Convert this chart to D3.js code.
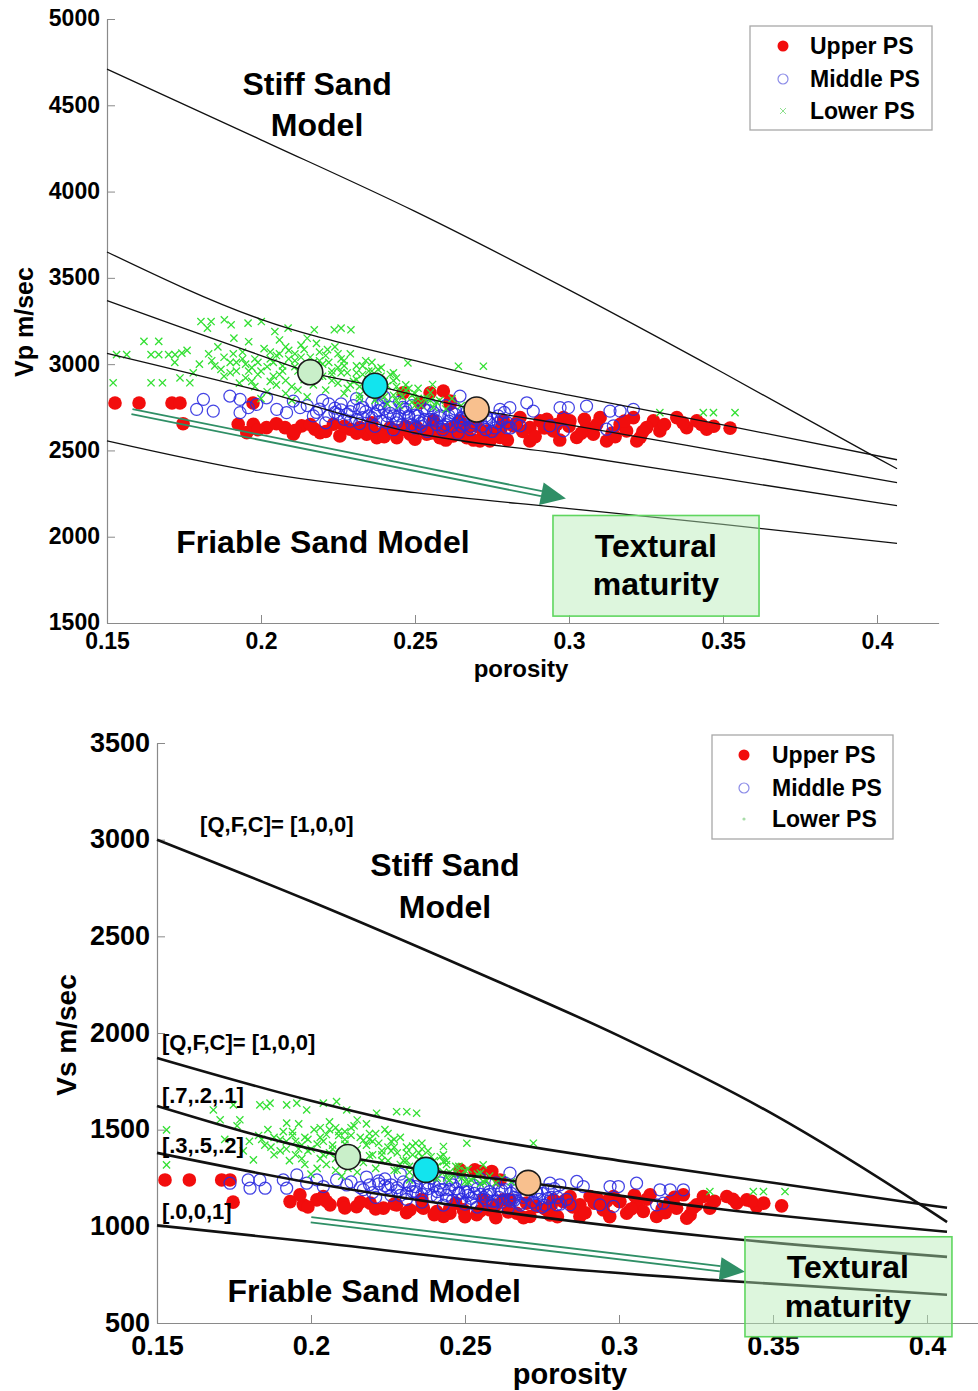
<!DOCTYPE html>
<html>
<head>
<meta charset="utf-8">
<script src="https://cdn.jsdelivr.net/npm/d3@7"></script>
<style>
  body { margin: 0; background: #fff; }
  svg { display: block; }
  text { font-family: "Liberation Sans", Arial, Helvetica, sans-serif; font-weight: bold; fill: #000; }
</style>
</head>
<body>
<svg id="fig" width="978" height="1391"></svg>
<script>
// ---------- axes ----------
const porosityTicks = [0.15, 0.2, 0.25, 0.3, 0.35, 0.4];
const vpTicks = [1500, 2000, 2500, 3000, 3500, 4000, 4500, 5000];
const vsTicks = [500, 1000, 1500, 2000, 2500, 3000, 3500];

// ---------- rock-physics model curves: [porosity, velocity] ----------
// P-wave velocity
const vpStiff100   = [[0.15,4710],[0.2,4300],[0.25,3885],[0.3,3430],[0.35,2950],[0.4,2457],[0.4065,2394]];
const vpFriable100 = [[0.15,3650],[0.2,3260],[0.25,3020],[0.2776,2901],[0.3,2820],[0.35,2648],[0.4065,2446]];
const vpFriable721 = [[0.15,3368],[0.2,3050],[0.216,2953],[0.237,2875],[0.27,2737],[0.3,2648],[0.35,2492],[0.4065,2313]];
const vpFriable352 = [[0.15,3063],[0.2,2844],[0.25,2601],[0.3,2475],[0.35,2336],[0.4065,2180]];
const vpFriable001 = [[0.15,2555],[0.2,2371],[0.25,2255],[0.3,2163],[0.35,2071],[0.4065,1961]];
// S-wave velocity
const vsStiff100   = [[0.15,3000],[0.2,2680],[0.25,2340],[0.3,1985],[0.35,1580],[0.4,1090],[0.4065,1022]];
const vsFriable100 = [[0.15,1871],[0.2,1650],[0.25,1470],[0.3,1340],[0.35,1225],[0.4065,1096]];
const vsFriable721 = [[0.15,1623],[0.212,1359],[0.2373,1292],[0.2705,1225],[0.33,1095],[0.4065,972]];
const vsFriable352 = [[0.15,1380],[0.2,1225],[0.2614,1075],[0.33,946],[0.4065,842]];
const vsFriable001 = [[0.15,1005],[0.2,920],[0.2614,810],[0.33,723],[0.4065,646]];

// ---------- well-log samples: [porosity, velocity] ----------
const vpUpper = [
  [0.1526,2775],[0.1604,2775],[0.1711,2775],[0.1737,2775],[0.1747,2655],[0.1974,2775],
  [0.1926,2652],[0.1975,2652],[0.2018,2632],[0.2078,2632],[0.2132,2642],[0.2175,2623],[0.2235,2652],
  [0.2289,2623],[0.2343,2594],[0.2397,2603],[0.2441,2574],[0.2484,2594],[0.2538,2594],[0.2581,2574],
  [0.2624,2584],[0.2668,2574],[0.2722,2594],[0.2462,2834],[0.2549,2834],[0.2592,2844],[0.2516,2776],
  [0.2614,2769],[0.1954,2603],[0.2105,2594],[0.2192,2603],[0.2256,2584],[0.2321,2632],[0.2376,2574],
  [0.2419,2632],[0.2506,2632],[0.2560,2623],[0.2646,2613],[0.2743,2555],[0.2668,2632],[0.2614,2786],
  [0.2538,2613],[0.2581,2575],[0.2624,2632],[0.2668,2594],[0.2733,2613],[0.2776,2575],[0.2819,2642],
  [0.2873,2555],[0.2906,2671],[0.2949,2613],[0.2982,2690],[0.3025,2575],[0.3057,2632],[0.3101,2690],
  [0.3122,2555],[0.3166,2652],[0.3209,2690],[0.3231,2575],[0.3274,2671],[0.3295,2613],[0.3350,2690],
  [0.3382,2632],[0.3415,2671],[0.3447,2623],[0.3523,2629],[0.2928,2680],[0.3003,2671],[0.3079,2594],
  [0.3187,2613],[0.3252,2632],[0.2841,2690],[0.2787,2671],[0.2711,2555],[0.2646,2671],[0.2559,2671],
  [0.3220,2555],[0.2873,2632],
  [0.1990,2620],[0.2050,2655],[0.2110,2615],[0.2160,2650],[0.2210,2610],[0.2270,2640],[0.2310,2600],
  [0.2360,2625],[0.2400,2580],[0.2450,2615],[0.2500,2565],[0.2550,2600],[0.2600,2560],[0.2640,2595],
  [0.2690,2560],[0.2760,2600],[0.2800,2560],[0.2850,2610],[0.2890,2580],[0.2920,2630],[0.2970,2560],
  [0.3000,2640],[0.3040,2600],[0.3090,2650],[0.3140,2600],[0.3180,2670],[0.3240,2610],[0.3310,2650],
  [0.3370,2660],[0.3430,2650],[0.3470,2640],[0.2700,2640],[0.2830,2660],[0.2960,2650],[0.3050,2680],
  [0.3150,2580],[0.2780,2630],[0.2600,2620],[0.2470,2640],[0.2360,2660]
];
const vpMiddle = [
  [0.1791,2738],[0.1813,2796],[0.1845,2728],[0.1899,2815],[0.1932,2796],[0.1959,2748],[0.1932,2719],
  [0.1986,2767],[0.2018,2805],[0.2051,2738],[0.2083,2719],[0.2105,2786],[0.2127,2748],
  [0.215,2760],[0.218,2720],[0.220,2790],[0.222,2700],[0.224,2745],[0.226,2770],[0.227,2680],[0.229,2725],
  [0.231,2800],[0.232,2655],[0.233,2750],[0.235,2700],[0.236,2780],[0.237,2640],[0.238,2730],[0.239,2670],
  [0.240,2810],[0.241,2700],[0.242,2750],[0.243,2620],[0.244,2680],[0.245,2780],[0.246,2650],[0.247,2720],
  [0.248,2690],[0.249,2760],[0.250,2630],[0.251,2700],[0.252,2660],[0.253,2740],[0.254,2610],[0.255,2680],
  [0.256,2720],[0.257,2650],[0.258,2700],[0.259,2620],[0.260,2760],[0.261,2670],[0.262,2640],[0.263,2710],
  [0.264,2600],[0.265,2690],[0.266,2650],[0.267,2730],[0.268,2620],[0.270,2680],[0.272,2640],[0.273,2700],
  [0.275,2610],[0.277,2660],[0.279,2720],[0.281,2630],
  [0.222,2770],[0.226,2735],[0.230,2760],[0.234,2725],[0.238,2765],[0.242,2715],[0.246,2750],[0.250,2705],
  [0.254,2730],[0.258,2690],[0.262,2720],[0.266,2680],[0.270,2700],[0.274,2665],[0.278,2680],[0.228,2710],
  [0.236,2690],[0.244,2660],[0.252,2640],[0.260,2650],[0.268,2640],[0.276,2630],[0.219,2740],[0.240,2740],
  [0.256,2680],[0.264,2665],[0.248,2700],[0.232,2740],
  [0.217,2700],[0.221,2660],[0.225,2710],[0.229,2670],[0.233,2690],[0.237,2710],[0.241,2660],[0.245,2700],
  [0.249,2650],[0.253,2680],[0.257,2670],[0.261,2700],[0.265,2640],[0.269,2660],[0.273,2620],[0.277,2700],
  [0.280,2660],[0.224,2720],[0.239,2770],[0.247,2740],[0.255,2760],[0.263,2740],[0.271,2720],[0.231,2680],
  [0.243,2700],[0.251,2670],[0.259,2640],[0.267,2700],[0.275,2680],[0.283,2650],
  [0.2646,2815],[0.2776,2738],[0.2808,2748],[0.2863,2776],[0.2884,2728],[0.2971,2748],[0.2998,2748],
  [0.3057,2757],[0.3133,2728],[0.3166,2728],[0.3209,2738],[0.2798,2632],[0.2841,2642],[0.2938,2642],
  [0.2982,2613],[0.3122,2623],[0.3144,2642],[0.2733,2690]
];
const vpLower = [
  [0.1531,3055],[0.1564,3055],[0.1520,2892],[0.1620,3132],[0.1668,3132],[0.1643,3055],[0.1668,3055],
  [0.1643,2892],[0.1680,2892],[0.1700,3055],[0.1721,3055],[0.1743,3064],[0.1737,2920],[0.1769,2892],
  [0.1805,3247],[0.1838,3247],[0.1881,3257],[0.1903,3228],[0.1826,3209],[0.1912,3151],[0.1958,3238],
  [0.2001,3247],[0.2045,3189],[0.2088,3209],[0.2173,3199],[0.2238,3199],[0.2260,3209],[0.2292,3199],
  [0.2390,2980],[0.2477,3007],[0.2216,3084],
  [0.185,2990],[0.188,3040],[0.190,2950],[0.192,3010],[0.194,3070],[0.195,2920],[0.197,2980],[0.198,3030],
  [0.200,2960],[0.201,3090],[0.203,2900],[0.204,3010],[0.205,3050],[0.206,2940],[0.207,2990],[0.209,3080],
  [0.210,2870],[0.211,3020],[0.212,2960],[0.213,3110],[0.214,2910],[0.216,3040],[0.217,2880],[0.218,2990],
  [0.219,3070],[0.220,2930],[0.221,2850],[0.222,3010],[0.223,2960],[0.224,3100],[0.225,2890],[0.226,3030],
  [0.227,2830],[0.228,2950],[0.229,3060],[0.230,2900],[0.231,2990],[0.232,2820],[0.233,2940],[0.234,3020],
  [0.235,2860],[0.236,2920],[0.237,2790],[0.238,2970],[0.239,2840],[0.240,2900],[0.241,2770],[0.242,2940],
  [0.243,2820],[0.244,2870],[0.245,2760],[0.246,2810],[0.248,2860],[0.249,2780],[0.250,2830],[0.252,2760],
  [0.254,2800],[0.256,2750],[0.258,2790],[0.260,2740],[0.198,2870],[0.202,2840],[0.208,2830],[0.215,2810],
  [0.193,2890],[0.188,2930],[0.183,3060],[0.186,3100],[0.196,3130],[0.206,3140],[0.215,3150],[0.200,2800],
  [0.210,2790],
  [0.196,2960],[0.199,3010],[0.202,2985],[0.204,2930],[0.206,3060],[0.208,2905],[0.211,2985],[0.213,3040],
  [0.215,2965],[0.217,3010],[0.219,2930],[0.221,3050],[0.223,2905],[0.225,2980],[0.227,3020],[0.229,2880],
  [0.231,2950],[0.233,2990],[0.235,2910],[0.237,2850],[0.239,2930],[0.241,2875],[0.243,2905],[0.245,2840],
  [0.247,2880],[0.249,2820],[0.251,2860],[0.253,2800],[0.255,2835],[0.257,2780],[0.262,2800],[0.265,2760],
  [0.190,3010],[0.192,2960],[0.194,3030],[0.203,3070],[0.209,3030],[0.214,3085],[0.220,3000],[0.226,2950],
  [0.232,2870],[0.236,2960],[0.244,2790],[0.250,2760],[0.180,3000],[0.178,2950],[0.176,3080],[0.172,3010],
  [0.187,2970],[0.191,3060],[0.195,3000],[0.199,2940],[0.203,3030],[0.207,2960],[0.211,3060],[0.215,2920],
  [0.219,3020],[0.223,2940],[0.227,2990],[0.231,2910],[0.235,2960],[0.239,2880],[0.243,2950],[0.247,2850],
  [0.251,2800],[0.255,2790],[0.228,2860],[0.232,2800],[0.240,2810],[0.212,2850],[0.205,2880],[0.197,2900],
  [0.218,3120],[0.208,3100],[0.225,3060],[0.236,3010],[0.244,2920],[0.184,3020],
  [0.2641,2988],[0.2722,2988],[0.2557,2882],[0.3295,2719],[0.3436,2719],[0.3469,2719],[0.3539,2719]
];

const vsUpper = [
  [0.1526,1240],[0.1605,1240],[0.1710,1240],[0.1737,1240],[0.1747,1125],
  [0.1932,1128],[0.1975,1111],[0.2019,1137],[0.2062,1111],[0.2105,1120],[0.2148,1102],[0.2192,1120],
  [0.2235,1094],[0.2278,1111],[0.2321,1085],[0.2365,1094],[0.2408,1077],[0.2451,1068],[0.2495,1085],
  [0.2538,1060],[0.1964,1163],[0.2040,1154],[0.2430,1051],[0.2484,1292],[0.2532,1292],[0.2549,1284],
  [0.2587,1284],[0.2614,1240],
  [0.2581,1085],[0.2624,1137],[0.2668,1068],[0.2733,1103],[0.2776,1059],[0.2819,1128],[0.2873,1051],
  [0.2906,1154],[0.2949,1085],[0.2982,1154],[0.3025,1068],[0.3057,1111],[0.3101,1163],[0.3122,1051],
  [0.3166,1128],[0.3209,1163],[0.3231,1059],[0.3274,1154],[0.3295,1094],[0.3350,1154],[0.3382,1120],
  [0.3415,1137],[0.3447,1103],[0.3528,1106],[0.2928,1146],[0.3003,1128],[0.3079,1077],[0.3187,1094],
  [0.3252,1111],[0.2841,1154],[0.2787,1137],[0.2711,1051],[0.2646,1137],[0.2559,1137],[0.3220,1042],
  [0.2873,1111],
  [0.1990,1100],[0.2050,1130],[0.2110,1095],[0.2160,1125],[0.2210,1090],[0.2270,1115],[0.2310,1070],
  [0.2360,1100],[0.2400,1060],[0.2450,1090],[0.2500,1050],[0.2550,1080],[0.2600,1045],[0.2640,1075],
  [0.2690,1045],[0.2760,1090],[0.2800,1050],[0.2850,1100],[0.2890,1070],[0.2920,1120],[0.2970,1050],
  [0.3000,1130],[0.3040,1090],[0.3090,1140],[0.3140,1090],[0.3180,1150],[0.3240,1095],[0.3310,1130],
  [0.3370,1140],[0.3430,1130],[0.3470,1120],[0.2700,1120],[0.2830,1140],[0.2960,1130],[0.3050,1160],
  [0.3150,1070],[0.2780,1110],[0.2600,1110],[0.2470,1120],[0.2360,1140]
];
const vsMiddle = [
  [0.1737,1223],[0.1796,1240],[0.1802,1197],[0.1834,1240],[0.1851,1197],[0.1910,1240],[0.1921,1197],
  [0.1954,1266],[0.1986,1223],[0.2019,1240],[0.2040,1206],[0.2083,1240],[0.2116,1214],
  [0.213,1230],[0.216,1200],[0.218,1255],[0.220,1175],[0.222,1220],[0.224,1245],[0.226,1160],[0.228,1200],
  [0.229,1270],[0.231,1140],[0.232,1215],[0.234,1180],[0.235,1250],[0.236,1125],[0.238,1195],[0.239,1160],
  [0.240,1275],[0.241,1180],[0.242,1225],[0.243,1110],[0.244,1160],[0.245,1240],[0.246,1135],[0.247,1195],
  [0.248,1170],[0.249,1230],[0.250,1115],[0.251,1180],[0.252,1145],[0.253,1210],[0.254,1100],[0.255,1165],
  [0.256,1200],[0.257,1135],[0.258,1180],[0.259,1110],[0.260,1225],[0.261,1150],[0.262,1125],[0.263,1190],
  [0.264,1095],[0.265,1170],[0.266,1135],[0.267,1205],[0.268,1110],[0.270,1160],[0.272,1125],[0.273,1180],
  [0.275,1100],[0.277,1145],[0.279,1195],[0.281,1115],
  [0.222,1235],[0.226,1215],[0.230,1230],[0.234,1205],[0.238,1225],[0.242,1190],[0.246,1215],[0.250,1180],
  [0.254,1195],[0.258,1165],[0.262,1185],[0.266,1150],[0.270,1170],[0.274,1140],[0.278,1150],[0.228,1185],
  [0.236,1165],[0.244,1140],[0.252,1120],[0.260,1130],[0.268,1120],[0.276,1110],[0.219,1215],[0.240,1210],
  [0.256,1150],[0.264,1140],[0.248,1175],[0.232,1210],
  [0.217,1190],[0.221,1150],[0.225,1200],[0.229,1160],[0.233,1180],[0.237,1200],[0.241,1150],[0.245,1190],
  [0.249,1140],[0.253,1170],[0.257,1160],[0.261,1190],[0.265,1130],[0.269,1150],[0.273,1110],[0.277,1190],
  [0.280,1150],[0.224,1210],[0.239,1250],[0.247,1230],[0.255,1245],[0.263,1225],[0.271,1200],[0.231,1170],
  [0.243,1190],[0.251,1160],[0.259,1130],[0.267,1190],[0.275,1170],[0.283,1140],
  [0.2646,1275],[0.2776,1223],[0.2808,1215],[0.2863,1232],[0.2884,1206],[0.2971,1206],[0.2998,1206],
  [0.3057,1223],[0.3133,1189],[0.3166,1189],[0.3209,1189],[0.2798,1111],[0.2841,1111],[0.2938,1111],
  [0.2982,1103],[0.3122,1111],[0.3144,1120],[0.2733,1172]
];
const vsLower = [
  [0.1531,1499],[0.1531,1318],[0.1683,1602],[0.1705,1551],[0.1748,1628],[0.1769,1551],[0.1813,1344],
  [0.1856,1620],[0.1921,1534],
  [0.1834,1628],[0.1867,1637],[0.1921,1628],[0.1954,1637],[0.1986,1602],[0.2040,1637],[0.2083,1645],
  [0.2116,1602],[0.2213,1585],[0.2278,1593],[0.2311,1593],[0.2343,1585],[0.2430,1413],[0.2506,1430],
  [0.185,1420],[0.188,1460],[0.190,1390],[0.192,1440],[0.194,1490],[0.195,1370],[0.197,1420],[0.198,1460],
  [0.200,1400],[0.201,1500],[0.203,1350],[0.204,1440],[0.205,1475],[0.206,1380],[0.207,1420],[0.209,1490],
  [0.210,1330],[0.211,1450],[0.212,1400],[0.213,1510],[0.214,1360],[0.216,1460],[0.217,1330],[0.218,1420],
  [0.219,1480],[0.220,1370],[0.221,1300],[0.222,1430],[0.223,1390],[0.224,1500],[0.225,1340],[0.226,1440],
  [0.227,1290],[0.228,1380],[0.229,1460],[0.230,1340],[0.231,1410],[0.232,1280],[0.233,1370],[0.234,1430],
  [0.235,1310],[0.236,1360],[0.237,1260],[0.238,1390],[0.239,1290],[0.240,1340],[0.241,1250],[0.242,1360],
  [0.243,1280],[0.244,1320],[0.245,1240],[0.246,1270],[0.248,1310],[0.249,1250],[0.250,1290],[0.252,1240],
  [0.254,1270],[0.256,1230],[0.258,1260],[0.260,1225],[0.198,1320],[0.202,1300],[0.208,1290],[0.215,1280],
  [0.193,1340],[0.188,1370],[0.183,1470],[0.186,1500],[0.196,1530],[0.206,1540],[0.215,1550],[0.200,1270],
  [0.210,1260],
  [0.196,1400],[0.199,1450],[0.202,1425],[0.204,1370],[0.206,1500],[0.208,1350],[0.211,1425],[0.213,1470],
  [0.215,1400],[0.217,1445],[0.219,1365],[0.221,1480],[0.223,1340],[0.225,1410],[0.227,1450],[0.229,1320],
  [0.231,1380],[0.233,1415],[0.235,1345],[0.237,1300],[0.239,1360],[0.241,1310],[0.243,1335],[0.245,1280],
  [0.247,1310],[0.249,1265],[0.251,1295],[0.253,1250],[0.255,1275],[0.257,1235],[0.262,1250],[0.265,1230],
  [0.190,1450],[0.192,1400],[0.194,1470],[0.203,1510],[0.209,1470],[0.214,1520],[0.220,1440],[0.226,1390],
  [0.232,1310],[0.236,1400],[0.244,1250],[0.250,1230],[0.180,1440],[0.178,1390],[0.176,1520],[0.172,1450],
  [0.187,1410],[0.191,1490],[0.195,1440],[0.199,1390],[0.203,1460],[0.207,1400],[0.211,1490],[0.215,1350],
  [0.219,1450],[0.223,1370],[0.227,1410],[0.231,1340],[0.235,1380],[0.239,1310],[0.243,1370],[0.247,1280],
  [0.251,1230],[0.255,1220],[0.228,1290],[0.232,1240],[0.240,1250],[0.212,1300],[0.205,1320],[0.197,1350],
  [0.218,1530],[0.208,1510],[0.225,1480],[0.236,1430],[0.244,1340],[0.184,1450],
  [0.2722,1430],[0.2559,1318],[0.3295,1180],[0.3436,1180],[0.3469,1180],[0.3539,1180]
];

// mean of each unit, plotted on the [.7,.2,.1] trend
const trendColors = ["#c9efc9", "#12e4ee", "#f8c08e"];
const vpTrend = [[0.216,2953],[0.237,2875],[0.270,2737]];
const vsTrend = [[0.212,1359],[0.2373,1292],[0.2705,1225]];

const seriesNames = ["Upper PS", "Middle PS", "Lower PS"];

// ---------- drawing ----------
const svg = d3.select("#fig");
const GREEN_ARROW = "#2f8f66";

function drawPanel(o) {
  const g = svg.append("g");
  const x = d3.scaleLinear().domain([0.15, 0.42]).range([o.left, o.left + 0.27 * 3080]);
  const y = d3.scaleLinear().domain(o.yDomain).range([o.bottom, o.top]);

  // axes: left and bottom only, ticks pointing inward
  const xAxis = d3.axisBottom(x).tickValues(porosityTicks).tickSizeInner(-8).tickSizeOuter(0)
    .tickPadding(o.xPad).tickFormat(d => String(+d.toFixed(2)));
  const yAxis = d3.axisLeft(y).tickValues(o.yTicks).tickSizeInner(-8).tickSizeOuter(0)
    .tickPadding(7).tickFormat(d => d);
  const gx = g.append("g").attr("transform", `translate(0,${o.bottom})`).call(xAxis);
  const gy = g.append("g").attr("transform", `translate(${o.left},0)`).call(yAxis);
  [gx, gy].forEach(a => {
    a.attr("font-family", null).attr("font-size", null);
    a.select(".domain").attr("stroke", "#8a8a8a").attr("stroke-width", 1.2);
    a.selectAll(".tick line").attr("stroke", "#8a8a8a");
    a.selectAll(".tick text").style("font-size", o.tickFont + "px").attr("fill", "#000");
  });
  gy.selectAll(".tick text").attr("dy", "0.30em");

  // axis titles
  g.append("text").attr("x", o.xTitle[0]).attr("y", o.xTitle[1]).attr("text-anchor", "middle")
    .style("font-size", o.titleFont + "px").text("porosity");
  g.append("text").attr("transform", `translate(${o.yTitle[0]},${o.yTitle[1]}) rotate(-90)`)
    .attr("text-anchor", "middle").style("font-size", o.yTitleFont + "px").text(o.yLabel);

  // samples
  const pts = g.append("g");
  pts.selectAll("circle.up").data(o.upper).join("circle").attr("class", "up")
    .attr("cx", d => x(d[0])).attr("cy", d => y(d[1])).attr("r", 6.8)
    .attr("fill", "#f20d0d");
  pts.selectAll("circle.mid").data(o.middle).join("circle").attr("class", "mid")
    .attr("cx", d => x(d[0])).attr("cy", d => y(d[1])).attr("r", 6)
    .attr("fill", "none").attr("stroke", "#2a2ae0").attr("stroke-width", 1.25).attr("stroke-opacity", 0.88);
  pts.selectAll("path.low").data(o.lower).join("path").attr("class", "low")
    .attr("transform", d => `translate(${x(d[0])},${y(d[1])})`)
    .attr("d", "M-3.6,-3.6L3.6,3.6M-3.6,3.6L3.6,-3.6")
    .attr("stroke", "#33e033").attr("stroke-width", 1.3).attr("fill", "none");

  // model curves
  const line = d3.line().x(d => x(d[0])).y(d => y(d[1])).curve(d3.curveMonotoneX);
  g.append("g").selectAll("path").data(o.curves).join("path")
    .attr("d", line).attr("fill", "none").attr("stroke", "#111").attr("stroke-width", o.lineWidth);

  // unit means
  g.append("g").selectAll("circle").data(o.trend).join("circle")
    .attr("cx", d => x(d[0])).attr("cy", d => y(d[1])).attr("r", 12.5)
    .attr("fill", (d, i) => trendColors[i]).attr("stroke", "#1a1a1a").attr("stroke-width", 1.6);

  // textural-maturity arrow (double shaft with solid head)
  const [a0, a1] = o.arrow;
  const sx = x(a0[0]), sy = y(a0[1]), tx = x(a1[0]), ty = y(a1[1]);
  const len = Math.hypot(tx - sx, ty - sy), ux = (tx - sx) / len, uy = (ty - sy) / len;
  const nx = -uy, ny = ux, head = 25, hw = 11.5, gap = 2.6;
  const bx = tx - ux * head, by = ty - uy * head;
  const ag = g.append("g");
  [-gap, gap].forEach(k => {
    ag.append("line").attr("x1", sx + nx * k).attr("y1", sy + ny * k)
      .attr("x2", bx + nx * k).attr("y2", by + ny * k)
      .attr("stroke", GREEN_ARROW).attr("stroke-width", 1.8);
  });
  ag.append("path").attr("d", `M${tx},${ty}L${bx + nx * hw},${by + ny * hw}L${bx - nx * hw},${by - ny * hw}Z`)
    .attr("fill", GREEN_ARROW);

  // labelled box
  const b = o.box;
  g.append("rect").attr("x", x(b[0])).attr("y", y(b[3]))
    .attr("width", x(b[1]) - x(b[0])).attr("height", y(b[2]) - y(b[3]))
    .attr("fill", "#b4ecb4").attr("fill-opacity", 0.45).attr("stroke", "#5fd65f").attr("stroke-width", 1.6);

  // annotations
  o.notes.forEach(n => {
    g.append("text").attr("x", x(n.p)).attr("y", y(n.v)).attr("text-anchor", n.anchor || "middle")
      .style("font-size", n.size + "px").text(n.t);
  });

  // legend
  const L = o.legend;
  const lg = g.append("g");
  lg.append("rect").attr("x", L.x).attr("y", L.y).attr("width", L.w).attr("height", L.h)
    .attr("fill", "#fff").attr("stroke", "#a8a8a8").attr("stroke-width", 1.3);
  seriesNames.forEach((name, i) => {
    const cy = L.rows[i];
    if (i === 0) lg.append("circle").attr("cx", L.mx).attr("cy", cy).attr("r", 5.5).attr("fill", "#f20d0d");
    if (i === 1) lg.append("circle").attr("cx", L.mx).attr("cy", cy).attr("r", 5)
      .attr("fill", "none").attr("stroke", "#8c8ce8").attr("stroke-width", 1.2);
    if (i === 2) {
      if (L.dotLower) lg.append("circle").attr("cx", L.mx).attr("cy", cy).attr("r", 1.6).attr("fill", "#a8dca8");
      else lg.append("path").attr("transform", `translate(${L.mx},${cy})`)
        .attr("d", "M-3,-3L3,3M-3,3L3,-3").attr("stroke", "#8fe08f").attr("stroke-width", 1);
    }
    lg.append("text").attr("x", L.tx).attr("y", cy).attr("dy", "0.36em")
      .style("font-size", L.font + "px").text(name);
  });
}

// Vp panel
drawPanel({
  left: 107, top: 19, bottom: 623, yDomain: [1500, 5000], yTicks: vpTicks,
  xPad: 10, tickFont: 23, titleFont: 24, yTitleFont: 25,
  xTitle: [521, 677], yTitle: [33, 322], yLabel: "Vp m/sec",
  upper: vpUpper, middle: vpMiddle, lower: vpLower,
  curves: [vpStiff100, vpFriable100, vpFriable721, vpFriable352, vpFriable001],
  lineWidth: 1.3, trend: vpTrend,
  arrow: [[0.1581, 2725], [0.2990, 2221]],
  box: [0.2948, 0.3617, 1540, 2123],
  notes: [
    { t: "Stiff Sand", p: 0.2182, v: 4562, size: 32 },
    { t: "Model", p: 0.2182, v: 4320, size: 32 },
    { t: "Friable Sand Model", p: 0.2201, v: 1904, size: 32 },
    { t: "Textural", p: 0.3282, v: 1881, size: 32 },
    { t: "maturity", p: 0.3282, v: 1665, size: 32 }
  ],
  legend: { x: 750, y: 26, w: 182, h: 104, mx: 783, tx: 810, rows: [46, 79, 111], font: 23, dotLower: false }
});

// Vs panel
drawPanel({
  left: 157, top: 743, bottom: 1323, yDomain: [500, 3500], yTicks: vsTicks,
  xPad: 13, tickFont: 27, titleFont: 29, yTitleFont: 28,
  xTitle: [570, 1384], yTitle: [76, 1035], yLabel: "Vs m/sec",
  upper: vsUpper, middle: vsMiddle, lower: vsLower,
  curves: [vsStiff100, vsFriable100, vsFriable721, vsFriable352, vsFriable001],
  lineWidth: 2.6, trend: vsTrend,
  arrow: [[0.2000, 1034], [0.3409, 765]],
  box: [0.3409, 0.4081, 429, 946],
  notes: [
    { t: "[Q,F,C]= [1,0,0]", p: 0.1640, v: 3039, size: 22, anchor: "start" },
    { t: "[Q,F,C]= [1,0,0]", p: 0.1516, v: 1912, size: 22, anchor: "start" },
    { t: "[.7,.2,.1]", p: 0.1516, v: 1638, size: 22, anchor: "start" },
    { t: "[.3,.5,.2]", p: 0.1516, v: 1379, size: 22, anchor: "start" },
    { t: "[.0,0,1]", p: 0.1516, v: 1038, size: 22, anchor: "start" },
    { t: "Stiff Sand", p: 0.2435, v: 2811, size: 32 },
    { t: "Model", p: 0.2435, v: 2594, size: 32 },
    { t: "Friable Sand Model", p: 0.2205, v: 609, size: 32 },
    { t: "Textural", p: 0.3743, v: 733, size: 32 },
    { t: "maturity", p: 0.3743, v: 531, size: 32 }
  ],
  legend: { x: 712, y: 735, w: 181, h: 104, mx: 744, tx: 772, rows: [755, 788, 819], font: 23, dotLower: true }
});
</script>
</body>
</html>
